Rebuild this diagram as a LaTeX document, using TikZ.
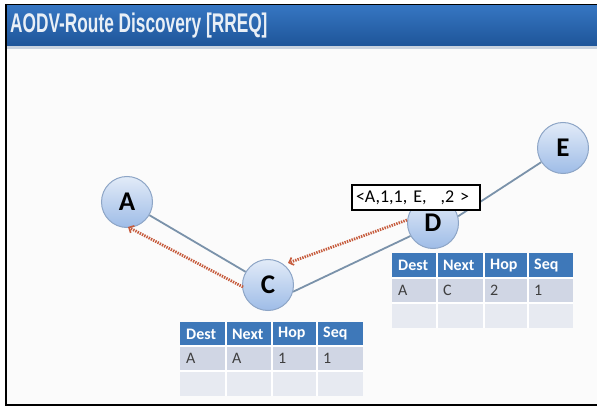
\documentclass[tikz,border=0pt]{standalone}
\usepackage{fontspec}
\usepackage{graphicx}
\setmainfont{Carlito}
\newfontfamily\titlefont{Liberation Sans}
\usetikzlibrary{arrows.meta}
\definecolor{barTop}{HTML}{3676C2}
\definecolor{barBot}{HTML}{1E5599}
\definecolor{stripe}{HTML}{C9D3DF}
\definecolor{pagebg}{HTML}{FBFBFB}
\definecolor{hdr}{HTML}{3E78B9}
\definecolor{rowA}{HTML}{D0D6E4}
\definecolor{rowB}{HTML}{E7EAF1}
\definecolor{nodeIn}{HTML}{E2EBF8}
\definecolor{nodeOut}{HTML}{9EBCE7}
\definecolor{nodeEdge}{HTML}{8DA5C6}
\definecolor{link}{HTML}{7A92AA}
\definecolor{rreq}{HTML}{C65B3C}
\definecolor{bodytxt}{HTML}{3F3F3F}
\definecolor{titletxt}{HTML}{E9EFF6}
\pgfdeclarelayer{bg}
\pgfdeclarelayer{back}
\pgfsetlayers{back,bg,main}
\tikzset{
  peer/.style={circle, minimum size=51pt, inner sep=0pt, draw=nodeEdge, line width=1pt,
    top color=nodeIn, bottom color=nodeOut, font=\fontsize{27}{27}\selectfont\bfseries},
  link/.style={draw=link, line width=1.8pt},
  rreqarrow/.style={draw=rreq, line width=2.8pt, dash pattern=on 1.4pt off 1.1pt,
    -{Straight Barb[length=4pt,width=8pt,line width=1.6pt]}},
  hdrtext/.style={anchor=west, text=white, font=\fontsize{16}{16}\selectfont\bfseries, inner sep=0pt},
  celltext/.style={anchor=west, text=bodytxt, font=\fontsize{16}{16}\selectfont, inner sep=0pt},
  msgbox/.style={draw=black, line width=1.3pt, fill=white, minimum width=128pt, minimum height=25pt,
    inner sep=3pt, font=\fontsize{18}{18}\selectfont, text width=120pt, align=left},
  sep/.style={white, line width=1.4pt}
}
\begin{document}
\begin{tikzpicture}[x=1pt,y=-1pt]
\useasboundingbox (0,0) rectangle (597,406);
% page
\begin{pgfonlayer}{back}
\fill[white] (0,0) rectangle (597,406);
\fill[pagebg] (6,5) rectangle (597,405);
\shade[top color=barTop, bottom color=barBot] (6,5) rectangle (597,46);
\fill[stripe] (6,46) rectangle (597,49);
\draw[black, line width=1.5pt] (6,4.5) -- (597,4.5);
\draw[black, line width=2pt] (6,4) -- (6,405) -- (597,405);
\end{pgfonlayer}
\node[anchor=base west, inner sep=0pt, text=titletxt] (title) at (10,33)
  {\scalebox{0.64}[1]{\titlefont\bfseries\fontsize{27}{27}\selectfont AODV-Route Discovery [RREQ]}};

% nodes
\node[peer] (A) at (127,202) {A};
\node[peer] (C) at (268,285) {C};
\node[peer] (D) at (433,223) {D};
\node[peer] (E) at (563,148) {E};
\begin{pgfonlayer}{bg}
\path[link] (A) -- (C);
\path[link] (C.-15) -- (D.-150);
\path[link] (D.15) -- (E);
\end{pgfonlayer}

% RREQ arrows
\coordinate (cfrom) at (243,287);
\coordinate (ato) at (128,227);
\coordinate (dfrom) at (407,220);
\coordinate (cto) at (288,263);
\draw[rreqarrow] (cfrom) -- (ato);
\draw[rreqarrow] (dfrom) -- (cto);

% message box
\node[msgbox] (msg) at (416,197.5) {<A,1,1, E,\hspace{14pt},2 >};

% table at D
\foreach \x/\w/\t [count=\i] in {392/45/Dest,437/47/Next,484/44/Hop,528/45/Seq} {
  \fill[hdr] (\x,253) rectangle ++(\w,25);
  \node[hdrtext] (dh\i) at (\x+6,265.5) {\t};
}
\foreach \x/\w/\t [count=\i] in {392/45/A,437/47/C,484/44/2,528/45/1} {
  \fill[rowA] (\x,278) rectangle ++(\w,25);
  \node[celltext] (dr\i) at (\x+6,290.5) {\t};
  \fill[rowB] (\x,303) rectangle ++(\w,25);
}
\foreach \x in {437,484,528} \draw[sep] (\x,253) -- (\x,328);
\draw[sep] (392,278) -- (573,278);
\draw[sep] (392,303) -- (573,303);

% table at C
\foreach \x/\w/\t [count=\i] in {180/46/Dest,226/46/Next,272/45/Hop,317/46/Seq} {
  \fill[hdr] (\x,322) rectangle ++(\w,24);
  \node[hdrtext] (ch\i) at (\x+6,334) {\t};
}
\foreach \x/\w/\t [count=\i] in {180/46/A,226/46/A,272/45/1,317/46/1} {
  \fill[rowA] (\x,346) rectangle ++(\w,25);
  \node[celltext] (cr\i) at (\x+6,358.5) {\t};
  \fill[rowB] (\x,371) rectangle ++(\w,25);
}
\foreach \x in {226,272,317} \draw[sep] (\x,322) -- (\x,396);
\draw[sep] (180,346) -- (363,346);
\draw[sep] (180,371) -- (363,371);
\end{tikzpicture}
\end{document}
